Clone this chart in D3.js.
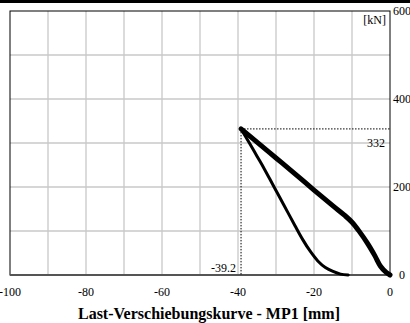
<!DOCTYPE html>
<html>
<head>
<meta charset="utf-8">
<script src="https://cdn.jsdelivr.net/npm/d3@7"></script>
<style>
  body { margin: 0; background: #fff; }
  svg { display: block; }
</style>
</head>
<body>
<svg id="chart" width="410" height="323"></svg>
<script>
// loading branch (thick), from origin to peak
var loadDisp  = [0, -1, -2.5, -4, -6, -8, -10, -12, -15, -20, -25, -30, -35, -39.2];
var loadForce = [0, 6, 20, 44, 73, 98, 120, 136, 157, 193, 230, 266, 302, 332];
// unloading branch (thin), from peak back to the axis
var unloadDisp  = [-39.2, -37, -35, -33, -31, -29, -27, -25, -23, -21, -19, -17, -15, -13, -11];
var unloadForce = [332, 300, 270, 240, 208, 176, 144, 112, 81, 54, 32, 17, 8, 2, 0];

var xTicks = [-100, -80, -60, -40, -20, 0];
var yTicks = [0, 200, 400, 600];
var peakDisp = -39.2, peakForce = 332;

var svg = d3.select("#chart");

var x = d3.scaleLinear().domain([-100, 0]).range([10, 390]);
var y = d3.scaleLinear().domain([0, 600]).range([275, 11]);

// top bar
svg.append("rect")
    .attr("x", 0).attr("y", 0)
    .attr("width", 410).attr("height", 3)
    .attr("fill", "#000");

// grid
var grid = svg.append("g").attr("stroke", "#c8c8c8").attr("stroke-width", 1.3);
grid.selectAll("line.v")
  .data(d3.range(-90, 0, 10))
  .enter().append("line")
    .attr("x1", x).attr("x2", x)
    .attr("y1", y(0)).attr("y2", y(600));
grid.selectAll("line.h")
  .data(d3.range(100, 600, 100))
  .enter().append("line")
    .attr("x1", x(-100)).attr("x2", x(0))
    .attr("y1", y).attr("y2", y);

// frame
svg.append("rect")
    .attr("x", x(-100)).attr("y", y(600))
    .attr("width", x(0) - x(-100)).attr("height", y(0) - y(600))
    .attr("fill", "none").attr("stroke", "#000").attr("stroke-width", 1);
svg.append("line")
    .attr("x1", x(-100)).attr("x2", x(0))
    .attr("y1", y(0)).attr("y2", y(0))
    .attr("stroke", "#555").attr("stroke-width", 2);

// dotted guide lines
svg.append("line")
    .attr("x1", x(peakDisp)).attr("x2", x(0))
    .attr("y1", y(peakForce)).attr("y2", y(peakForce))
    .attr("stroke", "#000").attr("stroke-width", 1)
    .attr("stroke-dasharray", "1.5,1.5");
svg.append("line")
    .attr("x1", x(peakDisp)).attr("x2", x(peakDisp))
    .attr("y1", y(peakForce)).attr("y2", y(0))
    .attr("stroke", "#000").attr("stroke-width", 1)
    .attr("stroke-dasharray", "1.5,1.5");

// curves
var line = d3.line()
    .x(function(d) { return x(d[0]); })
    .y(function(d) { return y(d[1]); })
    .curve(d3.curveCatmullRom);

svg.append("path")
    .datum(d3.zip(unloadDisp, unloadForce))
    .attr("d", line)
    .attr("fill", "none").attr("stroke", "#000")
    .attr("stroke-width", 3)
    .attr("stroke-linecap", "round").attr("stroke-linejoin", "round");

svg.append("path")
    .datum(d3.zip(loadDisp, loadForce))
    .attr("d", line)
    .attr("fill", "none").attr("stroke", "#000")
    .attr("stroke-width", 5)
    .attr("stroke-linecap", "round").attr("stroke-linejoin", "round");

// labels
var font = "'Liberation Serif', 'Times New Roman', serif";

svg.selectAll("text.xt")
  .data(xTicks)
  .enter().append("text")
    .attr("x", x).attr("y", 296)
    .attr("text-anchor", "middle")
    .attr("font-family", font).attr("font-size", 12)
    .text(function(d) { return d; });

svg.selectAll("text.yt")
  .data(yTicks)
  .enter().append("text")
    .attr("x", 402).attr("y", function(d) { return y(d) + 4; })
    .attr("text-anchor", "middle")
    .attr("font-family", font).attr("font-size", 12)
    .text(function(d) { return d; });

svg.append("text")
    .attr("x", 386).attr("y", 24)
    .attr("text-anchor", "end")
    .attr("font-family", font).attr("font-size", 12)
    .text("[kN]");

svg.append("text")
    .attr("x", 385).attr("y", y(peakForce) + 18)
    .attr("text-anchor", "end")
    .attr("font-family", font).attr("font-size", 12)
    .text(peakForce);

svg.append("text")
    .attr("x", x(peakDisp) - 5).attr("y", 272)
    .attr("text-anchor", "end")
    .attr("font-family", font).attr("font-size", 12)
    .text(peakDisp);

svg.append("text")
    .attr("x", 209).attr("y", 319)
    .attr("text-anchor", "middle")
    .attr("font-family", font).attr("font-size", 16)
    .attr("font-weight", "bold")
    .text("Last-Verschiebungskurve - MP1 [mm]");
</script>
</body>
</html>
